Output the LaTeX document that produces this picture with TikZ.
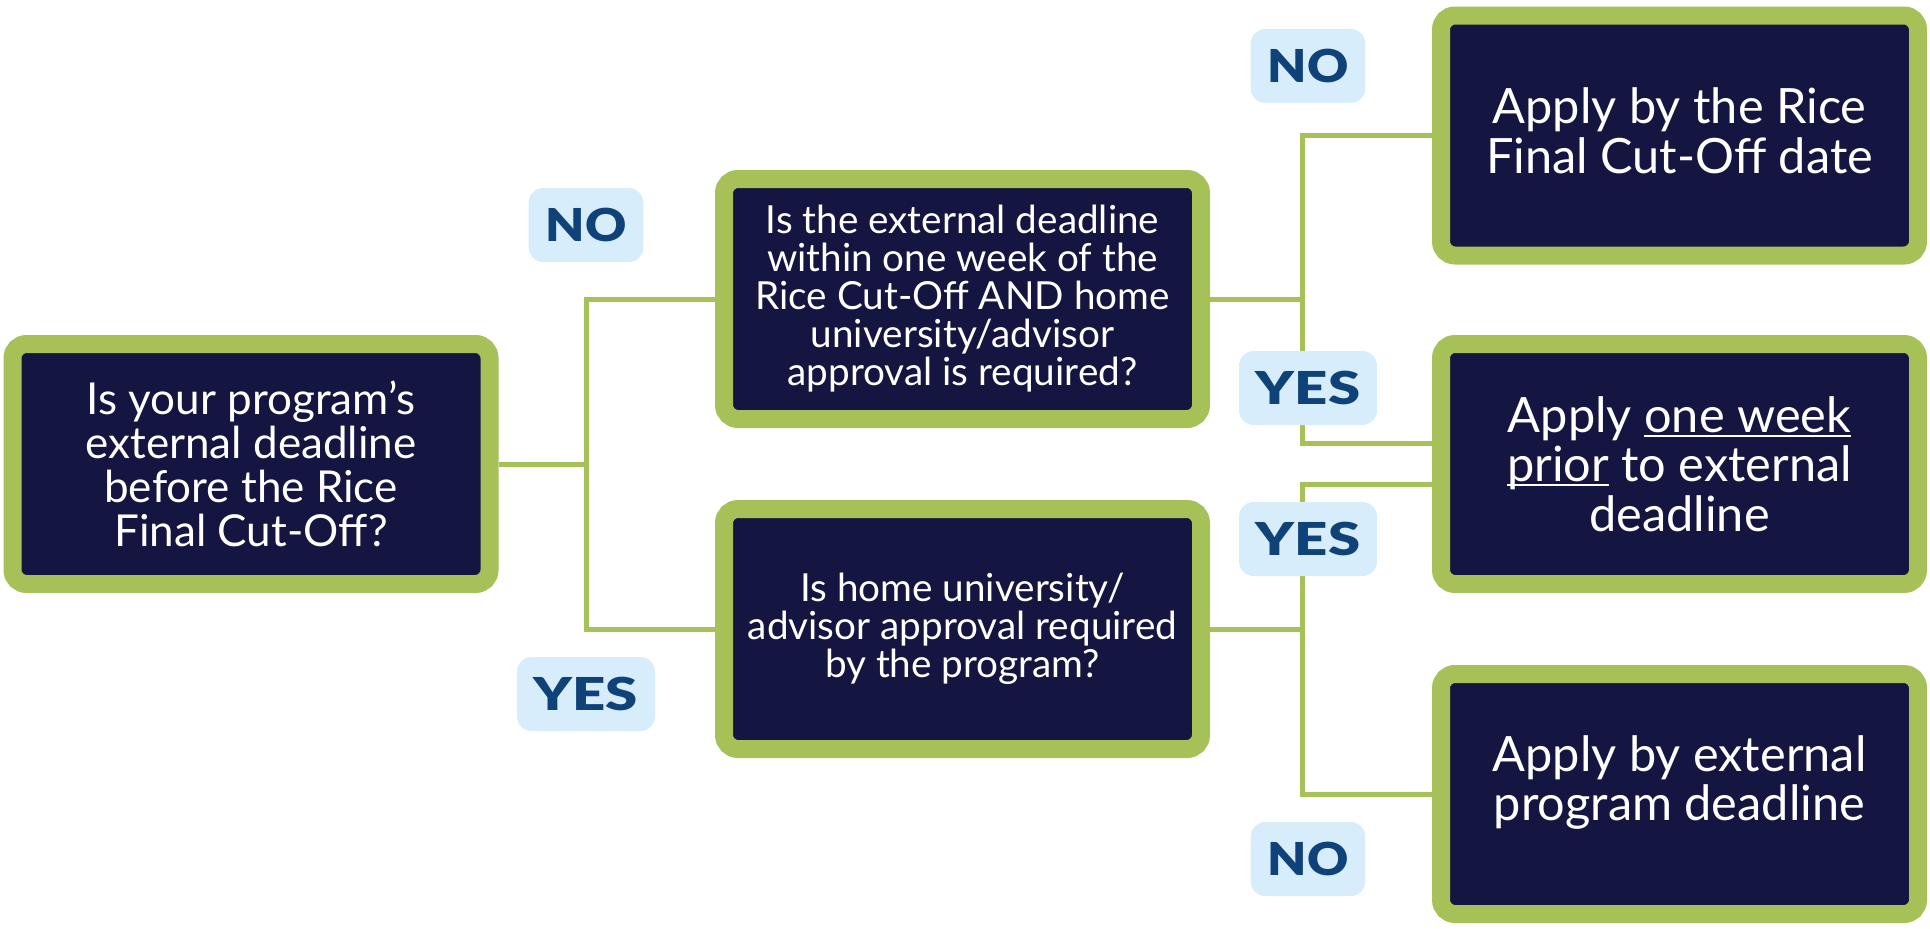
\documentclass[tikz,border=0pt]{standalone}
\usepackage{fontspec}
\setmainfont{Lato}
\newfontfamily\tagfont{Lato Black}
\usetikzlibrary{positioning}

\definecolor{boxgreen}{HTML}{A5C158}
\definecolor{boxnavy}{HTML}{141541}
\definecolor{tagblue}{HTML}{D7EDFC}
\definecolor{tagtext}{HTML}{10427A}

\newcommand{\qone}{\fontsize{33}{33}\selectfont}
\newcommand{\qtwo}{\fontsize{29}{28.5}\selectfont}
\newcommand{\qthree}{\fontsize{36.5}{37}\selectfont}
\newcommand{\lineunder}[1]{\setbox0\hbox{#1}\rlap{\rule[-3.5pt]{\wd0}{1.6pt}}\box0\relax}
\newcommand{\widen}[2]{\scalebox{#1}[1]{#2}}

\tikzset{
  qbox/.style={rectangle, rounded corners=10.5pt, draw=boxgreen, line width=13.5pt,
    fill=boxnavy, text=white, align=center, inner sep=0pt,
    minimum width=357.75pt, minimum height=180pt},
  tag/.style={rectangle, rounded corners=11pt, fill=tagblue, text=tagtext,
    font=\fontsize{34}{34}\tagfont, inner sep=0pt, minimum height=55.5pt},
  link/.style={draw=boxgreen, line width=3.75pt},
}

\begin{document}
\begin{tikzpicture}[x=0.75pt,y=0.75pt,yscale=-1,xscale=1]
\useasboundingbox (0,0) rectangle (1930,928);

% question boxes
\node [qbox, font=\qone] (start) at (251,464) {Is your program’s\\external deadline\\before the Rice\\Final Cut-Off?};
\node [qbox, font=\qtwo] (within) at (962.5,299) {Is the external deadline\\within one week of the\\Rice Cut-Off AND home\\university/advisor\\approval is required?};
\node [qbox, font=\qtwo] (approval) at (962.5,629) {Is home university/\\advisor approval required\\by the program?};

% answer boxes
\node [qbox, font=\qthree, text depth=7.5pt] (finaldate) at (1679.5,135.5) {Apply by the Rice\\Final Cut-Off date};
\node [qbox, font=\qthree] (weekprior) at (1679.5,464) {Apply \lineunder{one week}\\\lineunder{prior} to external\\deadline};
\node [qbox, font=\qthree, text depth=23.5pt] (extdate) at (1679.5,794) {Apply by external\\program deadline};

% connectors
\coordinate (split1) at (start.east -| 586,0);
\coordinate (split2) at (within.east -| 1302,0);
\coordinate (split3) at (approval.east -| 1302,0);
\draw [link] (start.east) -- (split1);
\draw [link] (split1) |- (within.west);
\draw [link] (split1) |- (approval.west);
\draw [link] (within.east) -- (split2);
\draw [link] (split2) |- (finaldate.west);
\draw [link] (split2) |- (weekprior.west |- 0,443);
\draw [link] (approval.east) -- (split3);
\draw [link] (split3) |- (weekprior.west |- 0,484);
\draw [link] (split3) |- (extdate.west);

% answer tags
\node [tag, minimum width=86pt] (no1) at (586,225) {\widen{1.12}{NO}};
\node [tag, minimum width=103.5pt] (yes1) at (586,694) {\widen{1.28}{YES}};
\node [tag, minimum width=86pt] (no2) at (1308,66) {\widen{1.12}{NO}};
\node [tag, minimum width=103.5pt] (yes2) at (1308,388) {\widen{1.28}{YES}};
\node [tag, minimum width=103.5pt] (yes3) at (1308,539) {\widen{1.28}{YES}};
\node [tag, minimum width=86pt] (no3) at (1308,859) {\widen{1.12}{NO}};

\end{tikzpicture}
\end{document}
